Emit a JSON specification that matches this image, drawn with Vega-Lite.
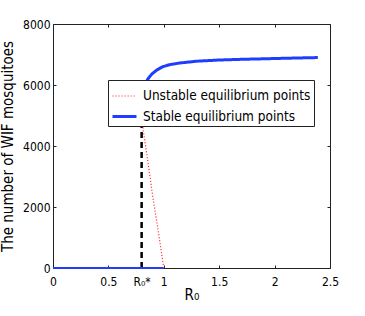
{
  "$schema": "https://vega.github.io/schema/vega-lite/v6.json",
  "width": 277,
  "height": 244,
  "autosize": {"type": "none"},
  "padding": {"left": 53, "top": 24, "right": 35, "bottom": 48},
  "background": "white",
  "datasets": {
    "branches": [
      {"series": "Unstable equilibrium points", "x": 0.8, "y": 5200},
      {"series": "Unstable equilibrium points", "x": 0.806, "y": 4900},
      {"series": "Unstable equilibrium points", "x": 0.814, "y": 4525},
      {"series": "Unstable equilibrium points", "x": 0.85, "y": 3650},
      {"series": "Unstable equilibrium points", "x": 0.9, "y": 2350},
      {"series": "Unstable equilibrium points", "x": 0.95, "y": 1200},
      {"series": "Unstable equilibrium points", "x": 1.0, "y": 0},
      {"series": "Stable equilibrium points", "x": 0.8, "y": 5200},
      {"series": "Stable equilibrium points", "x": 0.805, "y": 5500},
      {"series": "Stable equilibrium points", "x": 0.815, "y": 5800},
      {"series": "Stable equilibrium points", "x": 0.83, "y": 6000},
      {"series": "Stable equilibrium points", "x": 0.856, "y": 6197},
      {"series": "Stable equilibrium points", "x": 0.892, "y": 6361},
      {"series": "Stable equilibrium points", "x": 0.937, "y": 6492},
      {"series": "Stable equilibrium points", "x": 0.991, "y": 6600},
      {"series": "Stable equilibrium points", "x": 1.05, "y": 6665},
      {"series": "Stable equilibrium points", "x": 1.144, "y": 6721},
      {"series": "Stable equilibrium points", "x": 1.297, "y": 6780},
      {"series": "Stable equilibrium points", "x": 1.505, "y": 6820},
      {"series": "Stable equilibrium points", "x": 1.7, "y": 6842},
      {"series": "Stable equilibrium points", "x": 1.865, "y": 6856},
      {"series": "Stable equilibrium points", "x": 2.1, "y": 6877},
      {"series": "Stable equilibrium points", "x": 2.39, "y": 6900}
    ],
    "lower": [
      {"x": 0, "y": 0},
      {"x": 1, "y": 0}
    ],
    "threshold": [
      {"x": 0.8, "y": 0, "y2": 5200}
    ]
  },
  "layer": [
    {
      "data": {"name": "threshold"},
      "mark": {"type": "rule", "color": "black", "strokeWidth": 2.5, "strokeDash": [6, 4]},
      "encoding": {
        "x": {"field": "x", "type": "quantitative", "scale": {"domain": [0, 2.5], "nice": false},
          "axis": {"orient": "top", "labels": false, "title": null, "values": [0, 0.5, 1, 1.5, 2, 2.5]}},
        "y": {"field": "y", "type": "quantitative", "scale": {"domain": [0, 8000], "nice": false},
          "axis": {"orient": "right", "labels": false, "title": null, "values": [0, 2000, 4000, 6000, 8000]}},
        "y2": {"field": "y2"}
      }
    },
    {
      "data": {"name": "lower"},
      "mark": {"type": "line", "color": "#1f3dff", "strokeWidth": 2},
      "encoding": {
        "x": {"field": "x", "type": "quantitative", "axis": null},
        "y": {"field": "y", "type": "quantitative", "axis": null}
      }
    },
    {
      "data": {"name": "branches"},
      "mark": {"type": "line", "clip": true},
      "encoding": {
        "x": {"field": "x", "type": "quantitative", "title": "R₀",
          "axis": {"values": [0, 0.5, 0.8, 1, 1.5, 2, 2.5],
            "labelExpr": "datum.value == 0.8 ? 'R₀*' : format(datum.value, '~g')"}},
        "y": {"field": "y", "type": "quantitative", "title": "The number of WIF mosquitoes",
          "axis": {"values": [0, 2000, 4000, 6000, 8000], "format": "d"}},
        "color": {"field": "series", "type": "nominal",
          "scale": {"domain": ["Unstable equilibrium points", "Stable equilibrium points"], "range": ["#ff3b3b", "#1f3dff"]},
          "legend": {"title": null, "orient": "none", "legendX": 55, "legendY": 56}},
        "strokeDash": {"field": "series", "type": "nominal",
          "scale": {"domain": ["Unstable equilibrium points", "Stable equilibrium points"], "range": [[1.2, 1.8], [1, 0]]},
          "legend": {"title": null, "orient": "none", "legendX": 55, "legendY": 56}},
        "strokeWidth": {"field": "series", "type": "nominal",
          "scale": {"domain": ["Unstable equilibrium points", "Stable equilibrium points"], "range": [1.2, 3]},
          "legend": {"title": null, "orient": "none", "legendX": 55, "legendY": 56}}
      }
    }
  ],
  "resolve": {"axis": {"x": "independent", "y": "independent"}},
  "config": {
    "view": {"stroke": null},
    "font": "'DejaVu Sans Condensed', 'Liberation Sans', sans-serif",
    "axis": {
      "domainColor": "#222222",
      "domainWidth": 1,
      "tickColor": "#222222",
      "tickSize": -3,
      "grid": false,
      "labelFont": "'DejaVu Sans Condensed', 'Liberation Sans', sans-serif",
      "labelFontSize": 12,
      "labelColor": "black",
      "labelPadding": 5,
      "titleFont": "'DejaVu Sans Condensed', 'Liberation Sans', sans-serif",
      "titleFontSize": 15,
      "titleFontWeight": "normal",
      "titleColor": "black",
      "labelFlush": false,
      "labelOverlap": false
    },
    "axisLeft": {"titlePadding": 7, "labelPadding": 6},
    "axisBottom": {"titlePadding": 0, "labelPadding": 11},
    "legend": {
      "fillColor": "white",
      "strokeColor": "#222222",
      "padding": 3,
      "symbolType": "stroke",
      "symbolSize": 576,
      "labelFont": "'DejaVu Sans Condensed', 'Liberation Sans', sans-serif",
      "labelFontSize": 13.5,
      "labelColor": "black",
      "labelOffset": 5,
      "rowPadding": -1,
      "labelLimit": 400
    }
  }
}
